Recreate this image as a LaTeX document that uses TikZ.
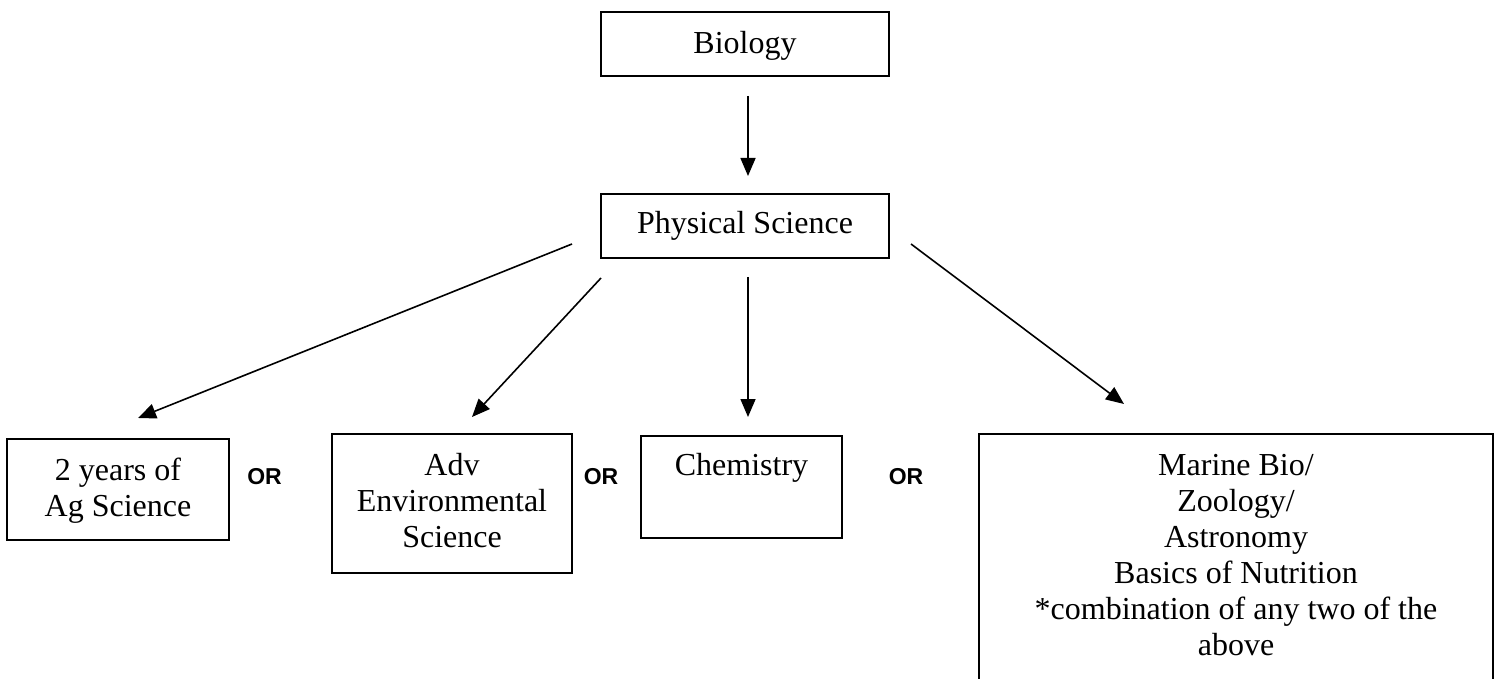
\documentclass[tikz,border=0pt]{standalone}
\usepackage{fontspec}
\setmainfont{Liberation Serif}
\newfontfamily\orfont{Liberation Sans}
\usetikzlibrary{arrows.meta}
\newcommand{\lines}[1]{\begin{tabular}[b]{@{}c@{}}#1\end{tabular}}
\begin{document}
\begin{tikzpicture}[x=0.5pt,y=-0.5pt,
  box/.style={draw, line width=0.9pt, inner xsep=0pt, inner ysep=0pt, anchor=north,
    font=\fontsize{16}{18}\selectfont},
  conn/.style={line width=0.8pt, -{Triangle[length=9pt,width=7.5pt]}},
  orlab/.style={anchor=base, inner sep=0pt, font=\orfont\bfseries\fontsize{11.5}{13}\selectfont}]
\useasboundingbox (0,0) rectangle (1500,679);
% boxes
\node[box, minimum width=144pt, text height=21pt, text depth=11pt] (bio) at (745,11) {Biology};
\node[box, minimum width=144pt, text height=20pt, text depth=12pt] (phys) at (745,193) {Physical Science};
\node[box, minimum width=111pt, text height=39pt, text depth=11.5pt] (ag) at (118,438)
  {\lines{2 years of\\Ag Science}};
\node[box, minimum width=120pt, text height=57pt, text depth=12.5pt] (adv) at (452,433)
  {\lines{Adv\\Environmental\\Science}};
\node[box, minimum width=100.5pt, text height=20pt, text depth=31pt] (chem) at (741.5,435)
  {Chemistry};
\node[box, minimum width=257pt, text height=111pt, text depth=24pt] (marine) at (1236,433)
  {\lines{Marine Bio/\\Zoology/\\Astronomy\\Basics of Nutrition\\{*}combination of any two of the\\above}};
% OR labels
\node[orlab] (or1) at (264.5,484) {OR};
\node[orlab] (or2) at (601,484) {OR};
\node[orlab] (or3) at (906,484) {OR};
% connector end points
\coordinate (s0) at (748,96);   \coordinate (e0) at (748,176);
\coordinate (s1) at (572,244);  \coordinate (e1) at (138,418);
\coordinate (s2) at (601,278);  \coordinate (e2) at (472,417);
\coordinate (s3) at (748,277);  \coordinate (e3) at (748,417);
\coordinate (s4) at (911,244);  \coordinate (e4) at (1124,404);
\draw[conn] (s0) -- (e0);
\draw[conn] (s1) -- (e1);
\draw[conn] (s2) -- (e2);
\draw[conn] (s3) -- (e3);
\draw[conn] (s4) -- (e4);
\end{tikzpicture}
\end{document}
